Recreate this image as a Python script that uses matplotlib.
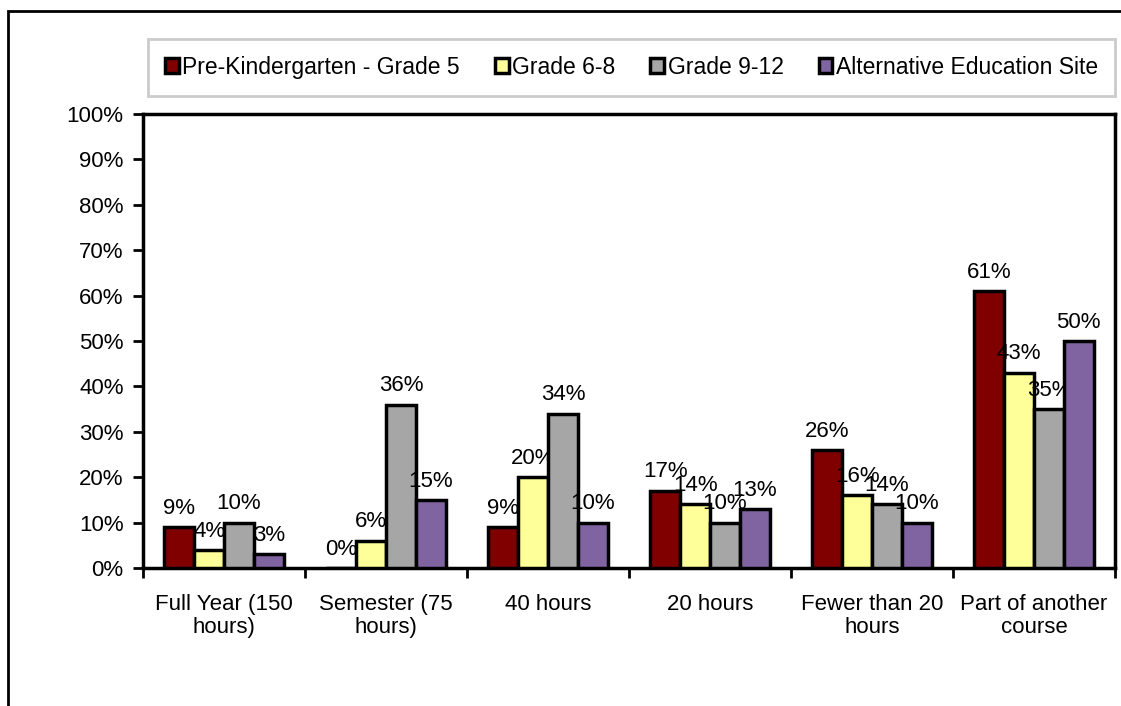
import numpy as np
import matplotlib
matplotlib.use("Agg")
import matplotlib.pyplot as plt
from matplotlib.patches import Rectangle

plt.rcParams['font.family'] = ['Liberation Sans', 'DejaVu Sans']

categories = ["Full Year (150\nhours)", "Semester (75\nhours)", "40 hours",
              "20 hours", "Fewer than 20\nhours", "Part of another\ncourse"]
series_names = ["Pre-Kindergarten - Grade 5", "Grade 6-8", "Grade 9-12",
                "Alternative Education Site"]
prek_5 = [9, 0, 9, 17, 26, 61]
grade_6_8 = [4, 6, 20, 14, 16, 43]
grade_9_12 = [10, 36, 34, 10, 14, 35]
alt_site = [3, 15, 10, 13, 10, 50]
colors = ["#800000", "#FFFF99", "#A6A6A6", "#8064A2"]

all_series = [prek_5, grade_6_8, grade_9_12, alt_site]
fs = 16

fig = plt.figure(figsize=(11.21, 7.06), dpi=100)
ax = fig.add_axes([143/1121, 1 - 568/706, (1115-143)/1121, (568-114)/706])

# outer chart frame
fig.patches.append(Rectangle((8/1121, -0.1), 1.2, 1 - 11/706 + 0.1,
                             transform=fig.transFigure, fill=False,
                             edgecolor="black", linewidth=2))

x = np.arange(len(categories))
w = 0.184
for i, (vals, name, c) in enumerate(zip(all_series, series_names, colors)):
    pos = x + (i - 1.5) * w
    bars = ax.bar(pos, vals, width=w, color=c, edgecolor="black",
                  linewidth=2.5, label=name, zorder=3)
    for b, v in zip(bars, vals):
        ax.annotate("%d%%" % v, (b.get_x() + b.get_width() / 2, v),
                    xytext=(0, 6), textcoords="offset points",
                    ha="center", va="bottom", fontsize=fs)

ax.set_xlim(-0.5, len(categories) - 0.5)
ax.set_ylim(0, 100)
ax.set_yticks(np.arange(0, 101, 10))
ax.set_yticklabels(["%d%%" % t for t in range(0, 101, 10)], fontsize=fs)
ax.set_xticks(x)
ax.set_xticklabels(categories, fontsize=fs, linespacing=1.1)
ax.tick_params(axis="x", length=0, pad=19)
ax.set_xticks(np.arange(-0.5, len(categories)), minor=True)
ax.tick_params(axis="x", which="minor", length=7, width=2, direction="out")
ax.tick_params(axis="y", length=7, width=2, direction="out", pad=7)
for s in ax.spines.values():
    s.set_linewidth(2.5)

leg = fig.legend(loc="lower left",
                 bbox_to_anchor=(148/1121, 1 - 96/706, 967/1121, 59/706),
                 mode="expand", ncol=4, fontsize=16.5, handlelength=0.6,
                 handleheight=0.6, handletextpad=0.15, columnspacing=0.5,
                 fancybox=False, borderpad=0.75, borderaxespad=0)
leg.get_frame().set_edgecolor("#BFBFBF")
leg.get_frame().set_linewidth(2)

fig.savefig("out.png", dpi=100)
